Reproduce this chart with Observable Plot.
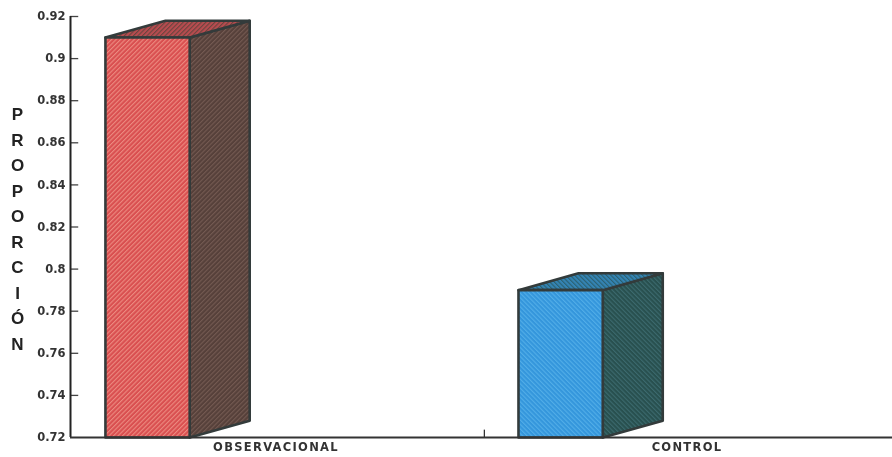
<!DOCTYPE html>
<html>
<head>
<meta charset="utf-8">
<script src="https://cdn.jsdelivr.net/npm/d3@7"></script>
<script src="https://cdn.jsdelivr.net/npm/@observablehq/plot@0.6"></script>
<style>
html,body{margin:0;padding:0;background:#fff;}
svg{display:block;filter:blur(0.45px);}
g[aria-label="x-axis tick label"] text{letter-spacing:1.3px;}
</style>
</head>
<body>
<div id="chart"></div>
<script>
const categories = ["OBSERVACIONAL", "CONTROL"];
const values = [0.91, 0.79];
const yTicks = [0.72, 0.74, 0.76, 0.78, 0.8, 0.82, 0.84, 0.86, 0.88, 0.9, 0.92];
const yLabel = "PROPORCIÓN";
const frontLeft = [0.085, 1.09];
const frontFills = ["url(#redFront)", "url(#blueFront)"];
const sideFills = ["url(#redSide)", "url(#blueSide)"];
const topFills = ["url(#redTop)", "url(#blueTop)"];

const base = 0.72, barW = 0.205, depthX = 0.146, depthY = 0.008, ink = "#333b3b";
const pts = a => a.map(([x, y]) => ({x, y}));
const faceMark = (points, fill) => Plot.line(pts(points), {
  x: "x", y: "y", curve: "linear-closed", fill, stroke: ink, strokeWidth: 2.6, strokeLinejoin: "round"
});
const bars = categories.flatMap((c, i) => {
  const L = frontLeft[i], R = L + barW, v = values[i];
  return [
    faceMark([[R, base], [R + depthX, base + depthY], [R + depthX, v + depthY], [R, v]], sideFills[i]),
    faceMark([[L, v], [R, v], [R + depthX, v + depthY], [L + depthX, v + depthY]], topFills[i]),
    faceMark([[L, base], [R, base], [R, v], [L, v]], frontFills[i])
  ];
});

const plot = Plot.plot({
  width: 892, height: 457,
  marginLeft: 70, marginRight: 0, marginTop: 16, marginBottom: 20,
  style: {fontFamily: "'DejaVu Sans'", fontWeight: "bold", background: "#fff", color: "#333"},
  x: {domain: [0, 2], axis: null},
  y: {domain: [0.72, 0.92], axis: null},
  marks: [
    Plot.axisY({ticks: yTicks, tickSize: 0, tickPadding: 5, label: null, fontSize: 11.5,
      tickFormat: d => String(+d.toFixed(2))}),
    Plot.axisX({ticks: [0.5, 1.5], tickSize: 0, tickPadding: 5, label: null, fontSize: 11.5,
      tickFormat: d => categories[Math.floor(d)]}),
    Plot.ruleY(yTicks.slice(1), {x1: 0, x2: 0.02, stroke: "#444", strokeWidth: 1.3}),
    Plot.ruleX([1.007], {y1: 0.72, y2: 0.7235, stroke: "#333", strokeWidth: 1.3}),
    ...bars,
    Plot.ruleX([0], {y1: 0.72, y2: 0.92, stroke: "#222", strokeWidth: 2}),
    Plot.ruleY([0.72], {stroke: "#333", strokeWidth: 1.8}),
    Plot.text([yLabel.split("").join("\n")], {
      frameAnchor: "left", dx: -53, textAnchor: "middle", lineHeight: 1.5,
      fontSize: 17, fontFamily: "'Liberation Sans'", fontWeight: "bold", fill: "#222"
    })
  ]
});

const hatch = (id, base, stripe, angle) => `
  <pattern id="${id}" patternUnits="userSpaceOnUse" width="3.2" height="3.2" patternTransform="rotate(${angle})">
    <rect width="3.2" height="3.2" fill="${base}"/>
    <rect width="1.1" height="3.2" fill="${stripe}"/>
  </pattern>`;
const defs = document.createElementNS("http://www.w3.org/2000/svg", "defs");
defs.innerHTML =
  hatch("redFront", "#d94f50", "#ec8a80", 45) +
  hatch("redSide", "#56403a", "#745a52", 45) +
  hatch("redTop", "#b84c50", "#6a443e", 45) +
  hatch("blueFront", "#3496dc", "#52aee8", -45) +
  hatch("blueSide", "#28504f", "#3c6a6e", -45) +
  hatch("blueTop", "#3484b4", "#2a6070", -45);
plot.insertBefore(defs, plot.firstChild);
document.getElementById("chart").appendChild(plot);
</script>
</body>
</html>
